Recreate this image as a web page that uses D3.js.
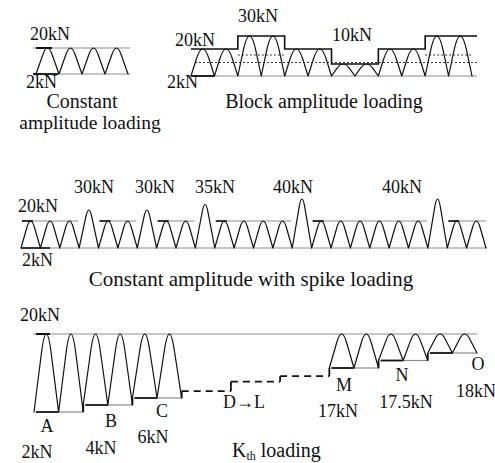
<!DOCTYPE html>
<html>
<head>
<meta charset="utf-8">
<script src="https://cdn.jsdelivr.net/npm/d3@7"></script>
<style>
  body { margin: 0; background: #fff; }
  text { font-family: "Liberation Serif", "Times New Roman", serif; fill: #111; }
</style>
</head>
<body>
<svg id="chart" width="495" height="463"></svg>
<script>
//===== data (kN) =====
// constant amplitude: peak of each cycle, min load 2kN
const constPeaks = [20, 20, 20, 20];
const constMin = 2;

// block amplitude: max load of each block, 2 cycles per block
const blockMax = [20, 30, 20, 10, 20, 30];
const blockCycles = 2;
const blockMin = 2;

// constant amplitude with spikes: peak of each cycle
const spikePeaks = [20, 20, 20, 30, 20, 20, 30, 20, 20, 35, 20, 20,
                    20, 20, 40, 20, 20, 20, 20, 20, 20, 40, 20, 20];
const spikeMin = 2;
const spikeBase = 20;

// Kth loading: min load of each step, max stays at 20kN
const kthSteps = ["A", "B", "C", "D", "E", "L", "M", "N", "O"];
const kthMin = [2, 4, 6, 8.5, 12, 14, 17, 17.5, 18];
const kthHidden = [false, false, false, true, true, true, false, false, false];
const kthMax = 20;
const kthCycles = 2;

//===== helpers =====
const svg = d3.select("#chart");
const ink = "#111";
const gray = "#8c8c8c";

// one load cycle: valley -> rounded peak -> valley (triangle with a soft top)
const arch = (p, x0, x1, yb, yp, f = 0.6) => {
  const xm = (x0 + x1) / 2;
  const ya = yb + (yp - yb) * 2 / (1 + f); // apex so the curve tops out at yp
  p.moveTo(x0, yb);
  p.lineTo(x0 + (xm - x0) * f, yb + (ya - yb) * f);
  p.quadraticCurveTo(xm, ya, x1 - (xm - x0) * f, yb + (ya - yb) * f);
  p.lineTo(x1, yb);
};
const wave = (p) =>
  svg.append("path").attr("d", p.toString()).attr("fill", "none")
    .attr("stroke", ink).attr("stroke-width", 1.2).attr("stroke-linecap", "round")
    .attr("stroke-linejoin", "round");
const hline = (x0, x1, y, color, w, dash) =>
  svg.append("line").attr("x1", x0).attr("x2", x1).attr("y1", y).attr("y2", y)
    .attr("stroke", color).attr("stroke-width", w).attr("stroke-dasharray", dash || null);
const vline = (x, y0, y1, color, w) =>
  svg.append("line").attr("x1", x).attr("x2", x).attr("y1", y0).attr("y2", y1)
    .attr("stroke", color).attr("stroke-width", w);
const label = (t, x, y, size, anchor) =>
  svg.append("text").attr("x", x).attr("y", y).attr("font-size", size)
    .attr("text-anchor", anchor || "start").text(t);

//===== Constant amplitude =====
{
  const x = d3.scaleLinear().domain([0, constPeaks.length]).range([36, 128]);
  const y = d3.scaleLinear().domain([2, 20]).range([74, 48]);
  hline(33, 130, y(20), gray, 1);
  hline(33, 130, y(constMin), gray, 1);
  hline(36, 52, y(20), ink, 2);
  hline(33, 58, y(constMin), ink, 1.8);
  const p = d3.path();
  constPeaks.forEach((d, i) => arch(p, x(i), x(i + 1), y(constMin), y(d)));
  wave(p);
  label("20kN", 30, 40, 18);
  label("2kN", 26, 88, 18);
  label("Constant", 82, 108, 20, "middle");
  label("amplitude loading", 90, 129, 19.5, "middle");
}

//===== Block amplitude =====
{
  const n = blockMax.length * blockCycles;
  const x = d3.scaleLinear().domain([0, n]).range([191, 472]);
  const y = d3.scaleLinear().domain([2, 20, 30]).range([76, 49, 36]);
  const mean = (blockMax[0] + blockMin) / 2;
  hline(x(0), x(n) + 5, y(blockMin), gray, 1);
  hline(x(0), x(1), y(blockMin), ink, 1.8);
  hline(x(0) + 4, x(n) + 5, y(mean), "#333", 1, "2,2");
  // step line of block maxima
  const step = d3.line().curve(d3.curveStepAfter)
    .x((d, i) => x(i * blockCycles)).y((d) => y(d));
  svg.append("path").attr("d", step([...blockMax, blockMax[blockMax.length - 1]]))
    .attr("fill", "none").attr("stroke", ink).attr("stroke-width", 1.6);
  hline(x(n), x(n) + 5, y(blockMax[blockMax.length - 1]), ink, 1.6);
  // mean of the higher blocks
  blockMax.forEach((d, i) => {
    if (d > blockMax[0])
      hline(x(i * blockCycles), x((i + 1) * blockCycles), y((d + blockMin) / 2), "#333", 1, "2,2");
  });
  const p = d3.path();
  blockMax.forEach((d, b) => {
    for (let c = 0; c < blockCycles; c++) {
      const i = b * blockCycles + c;
      arch(p, x(i), x(i + 1), y(blockMin), y(d), 0.45);
    }
  });
  wave(p);
  label("20kN", 175, 46, 18);
  label("30kN", 238, 22, 18);
  label("10kN", 332, 41, 18);
  label("2kN", 167, 88, 18);
  label("Block amplitude loading", 324, 108, 20, "middle");
}

//===== Constant amplitude with spikes =====
{
  const n = spikePeaks.length;
  const x = d3.scaleLinear().domain([0, n]).range([21, 486]);
  const y = d3.scaleLinear().domain([2, 20, 40]).range([248, 221, 199]);
  hline(x(0), x(n) + 1, y(spikeMin), gray, 1);
  // 20kN reference between spikes
  let start = 0;
  spikePeaks.forEach((d, i) => {
    if (d > spikeBase) {
      hline(x(start) + 1, x(i) - 1, y(spikeBase), gray, 1);
      hline(x(start) + 1, x(start) + 12, y(spikeBase), ink, 1.6);
      start = i + 1;
    }
  });
  hline(x(start) + 1, x(n), y(spikeBase), gray, 1);
  hline(x(start) + 1, x(start) + 12, y(spikeBase), ink, 1.6);
  hline(x(0), x(1.5), y(spikeMin), ink, 1.6);
  const p = d3.path();
  spikePeaks.forEach((d, i) => arch(p, x(i), x(i + 1), y(spikeMin), y(d), d > spikeBase ? 0.7 : 0.6));
  wave(p);
  label("20kN", 18, 212, 18);
  label("2kN", 22, 266, 18);
  [["30kN", 94], ["30kN", 155], ["35kN", 215], ["40kN", 293], ["40kN", 402]]
    .forEach(([t, cx]) => label(t, cx, 193, 18, "middle"));
  label("Constant amplitude with spike loading", 251, 286, 21, "middle");
}

//===== Kth loading =====
{
  const n = kthSteps.length;
  const x = d3.scaleLinear().domain([0, n]).range([34, 477]);
  const y = d3.scaleLinear().domain([2, 6, 17, 18, 20]).range([412, 398, 368, 353, 334]);
  hline(x(0) - 1, x(n), y(kthMax), gray, 1);
  hline(x(0) + 2, x(0) + 16, y(kthMax), ink, 2);
  const p = d3.path();
  kthMin.forEach((m, b) => {
    const x0 = x(b), x1 = x(b + 1), xm = x(b + 0.5);
    if (kthHidden[b]) {
      hline(x0, x1, y(m), ink, 1.8, "7,5");
    } else {
      hline(x0 + 2, xm, y(m), ink, 1.8);
      hline(xm, x1, y(m), gray, 1.2);
      for (let c = 0; c < kthCycles; c++) {
        const a = x(b + c / kthCycles), e = x(b + (c + 1) / kthCycles);
        arch(p, a, e, y(m), y(kthMax), 0.6);
      }
    }
    if (b < n - 1) vline(x1, y(m), y(kthMin[b + 1]), ink, 1.8);
  });
  wave(p);
  label("20kN", 20, 321, 18);
  [["A", 47, 432], ["B", 111, 427], ["C", 162, 417], ["M", 344, 391], ["N", 402, 381], ["O", 478, 370]]
    .forEach(([t, cx, cy]) => label(t, cx, cy, 18, "middle"));
  [["2kN", 37, 458], ["4kN", 101, 454], ["6kN", 153, 443], ["17kN", 338, 417], ["17.5kN", 406, 408], ["18kN", 476, 397]]
    .forEach(([t, cx, cy]) => label(t, cx, cy, 18, "middle"));
  label(kthSteps[3] + "\u2192" + kthSteps[5], 223, 408, 18);
  const kt = svg.append("text").attr("x", 232).attr("y", 457).attr("font-size", 20);
  kt.append("tspan").text("K");
  kt.append("tspan").attr("font-size", 12).attr("dy", 3).text("th");
  kt.append("tspan").attr("dy", -3).text(" loading");
}
</script>
</body>
</html>
